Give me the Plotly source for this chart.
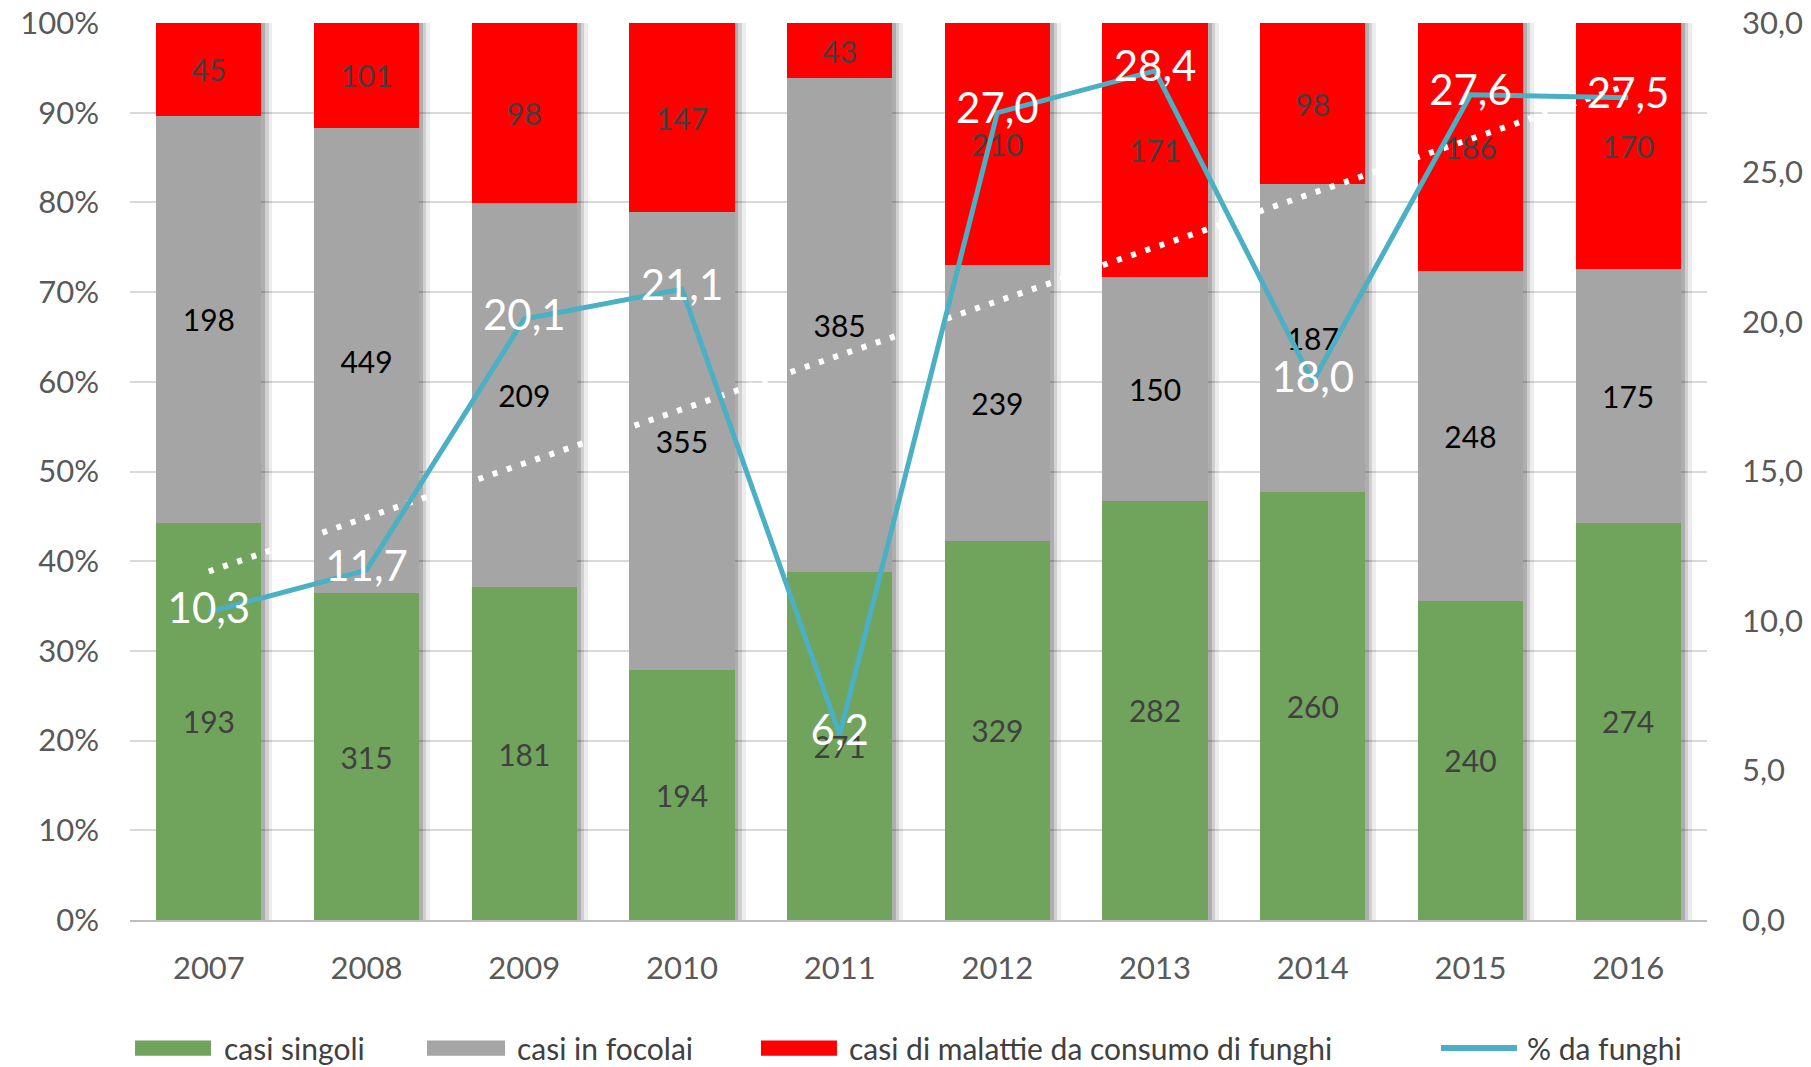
import numpy as np
import plotly.graph_objects as go

# Casi per anno
anni = ["2007", "2008", "2009", "2010", "2011", "2012", "2013", "2014", "2015", "2016"]
casi_singoli = [193, 315, 181, 194, 271, 329, 282, 260, 240, 274]
casi_focolai = [198, 449, 209, 355, 385, 239, 150, 187, 248, 175]
casi_funghi = [45, 101, 98, 147, 43, 210, 171, 98, 186, 170]
perc_funghi = [10.3, 11.7, 20.1, 21.1, 6.2, 27.0, 28.4, 18.0, 27.6, 27.5]

nomi = ["casi singoli", "casi in focolai", "casi di malattie da consumo di funghi", "% da funghi"]

FONT = "Lato, Open Sans, Liberation Sans, sans-serif"
VERDE = "#70A35C"
GRIGIO = "#A5A5A5"
ROSSO = "#FF0000"
AZZURRO = "#4BB0C4"
BAR_W = 0.667

fig = go.Figure()

# soft drop shadow behind each column
for dx, alpha in [(0.07, 0.07), (0.045, 0.12), (0.025, 0.16)]:
    fig.add_trace(go.Bar(
        x=anni, y=[100] * len(anni), base=0, width=BAR_W, offset=-BAR_W / 2 + dx,
        marker=dict(color=f"rgba(0,0,0,{alpha})", line=dict(width=0)),
        showlegend=False, hoverinfo="skip",
    ))

serie = [
    (nomi[0], casi_singoli, VERDE, "#404040"),
    (nomi[1], casi_focolai, GRIGIO, "#000000"),
    (nomi[2], casi_funghi, ROSSO, "#404040"),
]
for nome, valori, colore, col_testo in serie:
    fig.add_trace(go.Bar(
        x=anni, y=valori, name=nome, width=BAR_W,
        marker=dict(color=colore, line=dict(width=0)),
        text=valori, texttemplate="%{text}", textposition="inside",
        insidetextanchor="middle", constraintext="none", textangle=0,
        textfont=dict(family=FONT, size=30, color=col_testo),
        showlegend=False,
    ))

# linear trend of the mushroom share
pend, intercetta = np.polyfit(np.arange(len(perc_funghi)), perc_funghi, 1)
trend = list(intercetta + pend * np.arange(len(perc_funghi)))
fig.add_trace(go.Scatter(
    x=anni, y=trend, yaxis="y2", mode="lines",
    line=dict(color="white", width=6, dash="5px,10px"),
    showlegend=False, hoverinfo="skip",
))

fig.add_trace(go.Scatter(
    x=anni, y=perc_funghi, yaxis="y2", name=nomi[3], mode="lines+text",
    line=dict(color=AZZURRO, width=5),
    texttemplate="%{y:.1f}", textposition="middle center",
    textfont=dict(family=FONT, size=42, color="white"),
    showlegend=False,
))

# legend drawn as swatches + labels below the plot
ly = -0.1427
sw = [(0.0032, 0.0514, VERDE), (0.1883, 0.2378, GRIGIO), (0.4001, 0.4483, ROSSO)]
for x0, x1, c in sw:
    fig.add_shape(type="rect", xref="paper", yref="paper", x0=x0, x1=x1,
                  y0=ly - 0.0085, y1=ly + 0.0085, fillcolor=c, line=dict(width=0))
fig.add_shape(type="line", xref="paper", yref="paper", x0=0.8313, x1=0.8795,
              y0=ly, y1=ly, line=dict(color=AZZURRO, width=6))
for xt, nome in zip([0.0583, 0.2441, 0.4547, 0.8846], nomi):
    fig.add_annotation(x=xt, y=ly, xref="paper", yref="paper", text=nome,
                       showarrow=False, xanchor="left", yanchor="middle",
                       font=dict(family=FONT, size=30, color="#404040"))

fig.update_layout(
    width=1811, height=1067,
    margin=dict(l=130, r=104, t=23, b=147),
    paper_bgcolor="white", plot_bgcolor="white",
    barmode="stack", barnorm="percent",
    separators=",.",
    font=dict(family=FONT, size=30, color="#595959"),
    xaxis=dict(type="category", range=[-0.5, 9.5], showgrid=False, automargin=False,
               showline=True, linecolor="#BFBFBF", linewidth=2, ticks="",
               ticklabelstandoff=20, tickfont=dict(size=31, color="#595959")),
    yaxis=dict(range=[0, 100], dtick=10, ticksuffix="%", showgrid=True, automargin=False,
               gridcolor="#D9D9D9", gridwidth=1.5, zeroline=False, ticks="",
               ticklabelstandoff=30, tickfont=dict(size=31, color="#595959")),
    yaxis2=dict(range=[0, 30], dtick=5, tickformat=".1f", overlaying="y", automargin=False,
                side="right", showgrid=False, zeroline=False, ticks="",
                ticklabelstandoff=34, tickfont=dict(size=31, color="#595959")),
)

fig.write_html("out.html")
